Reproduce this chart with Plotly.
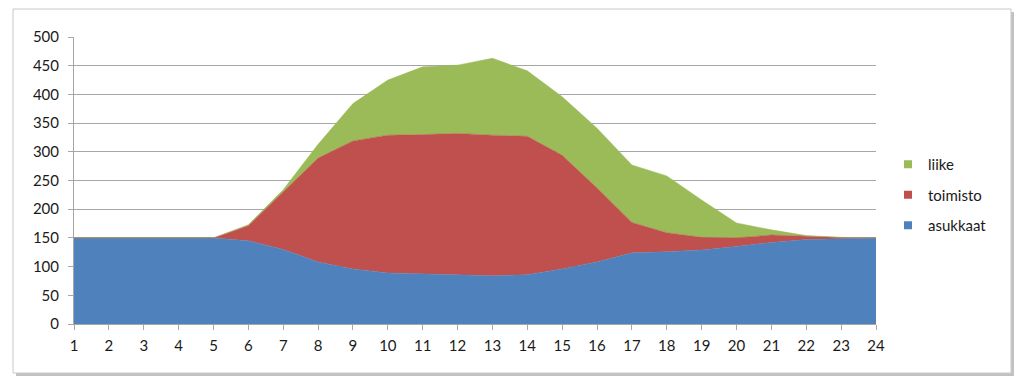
import plotly.graph_objects as go

hours = list(range(1, 25))
asukkaat = [150, 150, 150, 150, 150, 145, 130, 108, 96, 89, 87, 86, 84, 86, 96, 108, 124, 126, 129, 135, 142, 147, 149, 150]
toimisto = [0, 0, 0, 0, 0, 26, 100, 181, 223, 240, 243, 246, 245, 241, 198, 129, 53, 33, 22, 15, 13, 6, 1.5, 0]
liike = [0, 0, 0, 0, 0, 2, 4, 24, 65, 96, 118, 119, 134, 114, 102, 104, 100, 99, 65, 26, 9, 1, 0.5, 0]
y_ticks = list(range(0, 501, 50))

L, R, T, B = 74, 876, 37, 324
W, H = 1024, 391

series = [("asukkaat", asukkaat, "#4F81BD"),
          ("toimisto", toimisto, "#C0504D"),
          ("liike", liike, "#9BBB59")]

fig = go.Figure()
for name, vals, col in series:
    fig.add_trace(go.Scatter(x=hours, y=vals, name=name, mode="lines",
                             stackgroup="one", line=dict(width=0.5, color=col),
                             fillcolor=col, showlegend=False))
# legend entries with square swatches (top to bottom: liike, toimisto, asukkaat)
for name, vals, col in reversed(series):
    fig.add_trace(go.Scatter(x=[None], y=[None], name=name, mode="markers",
                             legendgroup=name,
                             marker=dict(symbol="square", size=8, color=col)))

def px_x(p):
    return (p - L) / (R - L)

def px_y(p):
    return (B - p) / (B - T)

# shadow and frame
fig.add_shape(type="rect", xref="paper", yref="paper",
              x0=px_x(16), x1=px_x(1014), y0=px_y(376), y1=px_y(12),
              line=dict(width=0), fillcolor="rgba(120,120,120,0.45)", layer="below")
fig.add_shape(type="rect", xref="paper", yref="paper",
              x0=px_x(13), x1=px_x(1011), y0=px_y(373), y1=px_y(9),
              line=dict(width=1, color="#c8c8c8"), fillcolor="white", layer="below")

fig.update_layout(
    width=W, height=H,
    margin=dict(l=L, r=W - R, t=T, b=H - B),
    paper_bgcolor="white", plot_bgcolor="rgba(0,0,0,0)",
    font=dict(family="Lato, 'Open Sans', sans-serif", size=14, color="#1a1a1a"),
    showlegend=True,
    legend=dict(traceorder="grouped", x=px_x(888), y=px_y(148), xanchor="left", yanchor="top",
                font=dict(size=15), itemwidth=30, tracegroupgap=8,
                bgcolor="rgba(0,0,0,0)"),
    xaxis=dict(range=[1, 24], tickvals=hours, showgrid=False, zeroline=False,
               showline=True, linecolor="#a6a6a6", ticks="outside", ticklen=5,
               tickcolor="#a6a6a6", tickfont=dict(size=15), ticklabelstandoff=3),
    yaxis=dict(range=[0, 500], tickvals=y_ticks, showgrid=True, gridcolor="#a6a6a6",
               gridwidth=1, zeroline=False, showline=True, linecolor="#a6a6a6",
               ticks="outside", ticklen=5, tickcolor="#a6a6a6", tickfont=dict(size=15),
               ticklabelstandoff=6),
)
fig.write_html("out.html", config={"displayModeBar": False},
               post_script="document.body.style.margin='0';document.body.style.overflow='hidden';")
